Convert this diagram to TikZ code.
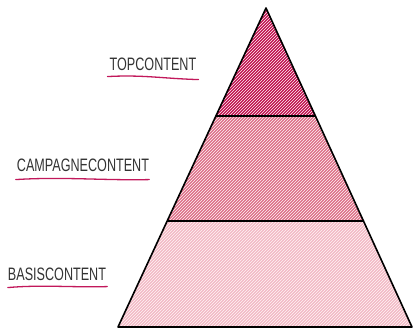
\documentclass[tikz,border=0pt]{standalone}
\usepackage{fontspec}
\newfontfamily\handfont[FakeStretch=0.7]{Liberation Sans}
\usetikzlibrary{patterns, calc}
\definecolor{toppink}{HTML}{C0104F}
\definecolor{midpink}{HTML}{DD6F89}
\definecolor{basepink}{HTML}{F2BAC6}
\definecolor{markred}{HTML}{C2185B}

\begin{document}
\begin{tikzpicture}[
    x=1pt, y=-1pt,
    label/.style={font=\handfont\fontsize{18}{18}\selectfont, text=black!80, inner sep=0pt},
    mark line/.style={draw=markred, line width=1.3pt, line cap=round},
    layer/.style={draw=black, line width=1.6pt, line join=round},
    streaks/.style={pattern=north east lines, pattern color=white!85!pink}
]
\useasboundingbox (0,0) rectangle (413,330);
\coordinate (apex) at (266,8);
\coordinate (baseL) at (118,327);
\coordinate (baseR) at (412,327);
\coordinate (midL) at ($(apex)!0.6677!(baseL)$);
\coordinate (midR) at ($(apex)!0.6677!(baseR)$);
\coordinate (topL) at ($(apex)!0.3386!(baseL)$);
\coordinate (topR) at ($(apex)!0.3386!(baseR)$);

% layers
\fill[basepink] (midL) -- (midR) -- (baseR) -- (baseL) -- cycle;
\fill[midpink] (topL) -- (topR) -- (midR) -- (midL) -- cycle;
\fill[toppink] (apex) -- (topR) -- (topL) -- cycle;
\fill[streaks] (apex) -- (baseR) -- (baseL) -- cycle;
\draw[layer] (apex) -- (baseR) -- (baseL) -- cycle;
\draw[layer] (topL) -- (topR);
\draw[layer] (midL) -- (midR);

% labels
\node[label] (Top) at (153,64) {TOPCONTENT};
\node[label] (Campagne) at (83,165) {CAMPAGNECONTENT};
\node[label] (Basis) at (57,274) {BASISCONTENT};
\draw[mark line] ($(Top.south west)+(-2,6)$) .. controls ($(Top.south)+(-10,4)$) and ($(Top.south)+(10,8)$) .. ($(Top.south east)+(2,9)$);
\draw[mark line] ($(Campagne.south west)+(-1,8)$) .. controls ($(Campagne.south)+(-20,5)$) and ($(Campagne.south)+(20,9)$) .. ($(Campagne.south east)+(0,8)$);
\draw[mark line] ($(Basis.south west)+(0,7)$) .. controls ($(Basis.south)+(-15,4)$) and ($(Basis.south)+(15,7)$) .. ($(Basis.south east)+(1,6)$);
\end{tikzpicture}
\end{document}
